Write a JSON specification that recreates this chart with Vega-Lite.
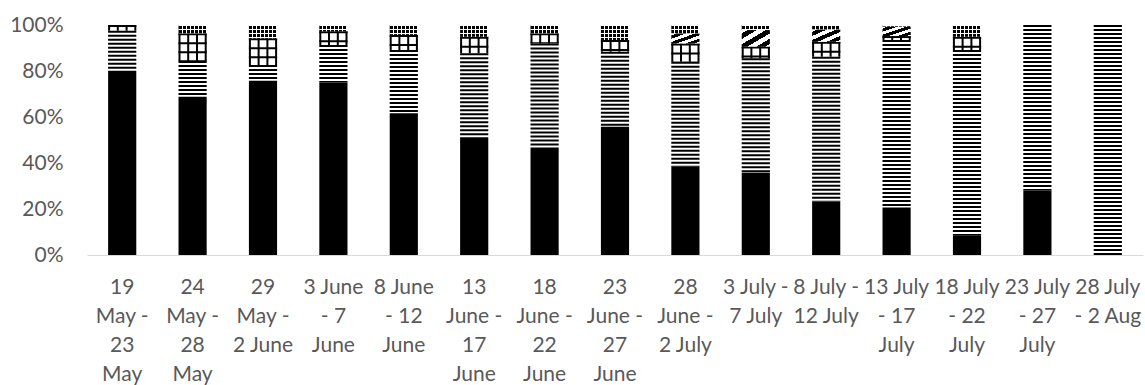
{
  "$schema": "https://vega.github.io/schema/vega-lite/v6.json",
  "width": 1056,
  "height": 230,
  "autosize": {"type": "none"},
  "padding": {"left": 87, "top": 25, "right": 2, "bottom": 130},
  "background": "white",
  "config": {
    "view": {"stroke": null},
    "font": "Lato",
    "axis": {"labelFont": "Lato", "labelFontSize": 21, "labelColor": "#595959", "grid": false, "ticks": false, "title": null}
  },
  "data": {
    "values": [
      {"p": "19 May - 23 May", "i": 0, "k": 1, "v": 80.1},
      {"p": "19 May - 23 May", "i": 0, "k": 2, "v": 17.4},
      {"p": "19 May - 23 May", "i": 0, "k": 3, "v": 2.5},
      {"p": "24 May - 28 May", "i": 1, "k": 1, "v": 68.8},
      {"p": "24 May - 28 May", "i": 1, "k": 2, "v": 15.5},
      {"p": "24 May - 28 May", "i": 1, "k": 3, "v": 12.1},
      {"p": "24 May - 28 May", "i": 1, "k": 5, "v": 3.6},
      {"p": "29 May - 2 June", "i": 2, "k": 1, "v": 75.8},
      {"p": "29 May - 2 June", "i": 2, "k": 2, "v": 6.8},
      {"p": "29 May - 2 June", "i": 2, "k": 3, "v": 11.6},
      {"p": "29 May - 2 June", "i": 2, "k": 5, "v": 5.8},
      {"p": "3 June - 7 June", "i": 3, "k": 1, "v": 75.0},
      {"p": "3 June - 7 June", "i": 3, "k": 2, "v": 16.3},
      {"p": "3 June - 7 June", "i": 3, "k": 3, "v": 6.0},
      {"p": "3 June - 7 June", "i": 3, "k": 5, "v": 2.7},
      {"p": "8 June - 12 June", "i": 4, "k": 1, "v": 61.6},
      {"p": "8 June - 12 June", "i": 4, "k": 2, "v": 27.5},
      {"p": "8 June - 12 June", "i": 4, "k": 3, "v": 6.6},
      {"p": "8 June - 12 June", "i": 4, "k": 5, "v": 4.3},
      {"p": "13 June - 17 June", "i": 5, "k": 1, "v": 51.2},
      {"p": "13 June - 17 June", "i": 5, "k": 2, "v": 36.5},
      {"p": "13 June - 17 June", "i": 5, "k": 3, "v": 7.2},
      {"p": "13 June - 17 June", "i": 5, "k": 5, "v": 5.1},
      {"p": "18 June - 22 June", "i": 6, "k": 1, "v": 46.1},
      {"p": "18 June - 22 June", "i": 6, "k": 2, "v": 45.9},
      {"p": "18 June - 22 June", "i": 6, "k": 3, "v": 4.4},
      {"p": "18 June - 22 June", "i": 6, "k": 5, "v": 3.6},
      {"p": "23 June - 27 June", "i": 7, "k": 1, "v": 55.8},
      {"p": "23 June - 27 June", "i": 7, "k": 2, "v": 32.6},
      {"p": "23 June - 27 June", "i": 7, "k": 3, "v": 5.1},
      {"p": "23 June - 27 June", "i": 7, "k": 5, "v": 6.5},
      {"p": "28 June - 2 July", "i": 8, "k": 1, "v": 38.4},
      {"p": "28 June - 2 July", "i": 8, "k": 2, "v": 45.6},
      {"p": "28 June - 2 July", "i": 8, "k": 3, "v": 8.0},
      {"p": "28 June - 2 July", "i": 8, "k": 4, "v": 4.4},
      {"p": "28 June - 2 July", "i": 8, "k": 5, "v": 3.6},
      {"p": "3 July - 7 July", "i": 9, "k": 1, "v": 35.8},
      {"p": "3 July - 7 July", "i": 9, "k": 2, "v": 49.7},
      {"p": "3 July - 7 July", "i": 9, "k": 3, "v": 5.1},
      {"p": "3 July - 7 July", "i": 9, "k": 4, "v": 7.2},
      {"p": "3 July - 7 July", "i": 9, "k": 5, "v": 2.2},
      {"p": "8 July - 12 July", "i": 10, "k": 1, "v": 23.3},
      {"p": "8 July - 12 July", "i": 10, "k": 2, "v": 62.9},
      {"p": "8 July - 12 July", "i": 10, "k": 3, "v": 6.5},
      {"p": "8 July - 12 July", "i": 10, "k": 4, "v": 5.4},
      {"p": "8 July - 12 July", "i": 10, "k": 5, "v": 1.9},
      {"p": "13 July - 17 July", "i": 11, "k": 1, "v": 20.7},
      {"p": "13 July - 17 July", "i": 11, "k": 2, "v": 72.8},
      {"p": "13 July - 17 July", "i": 11, "k": 3, "v": 1.7},
      {"p": "13 July - 17 July", "i": 11, "k": 4, "v": 4.1},
      {"p": "13 July - 17 July", "i": 11, "k": 5, "v": 0.7},
      {"p": "18 July - 22 July", "i": 12, "k": 1, "v": 8.4},
      {"p": "18 July - 22 July", "i": 12, "k": 2, "v": 80.7},
      {"p": "18 July - 22 July", "i": 12, "k": 3, "v": 5.8},
      {"p": "18 July - 22 July", "i": 12, "k": 5, "v": 5.1},
      {"p": "23 July - 27 July", "i": 13, "k": 1, "v": 28.0},
      {"p": "23 July - 27 July", "i": 13, "k": 2, "v": 72.0},
      {"p": "28 July - 2 Aug", "i": 14, "k": 2, "v": 100.0}
    ]
  },
  "transform": [
    {"stack": "v", "groupby": ["p"], "sort": [{"field": "k", "order": "ascending"}], "as": ["lo", "hi"]}
  ],
  "encoding": {
    "x": {
      "field": "p",
      "type": "nominal",
      "sort": {"field": "i", "op": "min"},
      "scale": {"paddingInner": 0.6, "paddingOuter": 0.3},
      "axis": {
        "labelAngle": 0,
        "domainColor": "#d9d9d9",
        "domainWidth": 1,
        "labelPadding": 21,
        "labelLineHeight": 29.3,
        "labelOverlap": false,
        "labelBound": false,
        "labelExpr": "({'19 May - 23 May': ['19', 'May -', '23', 'May'], '24 May - 28 May': ['24', 'May -', '28', 'May'], '29 May - 2 June': ['29', 'May -', '2 June'], '3 June - 7 June': ['3 June', '- 7', 'June'], '8 June - 12 June': ['8 June', '- 12', 'June'], '13 June - 17 June': ['13', 'June -', '17', 'June'], '18 June - 22 June': ['18', 'June -', '22', 'June'], '23 June - 27 June': ['23', 'June -', '27', 'June'], '28 June - 2 July': ['28', 'June -', '2 July'], '3 July - 7 July': ['3 July -', '7 July'], '8 July - 12 July': ['8 July -', '12 July'], '13 July - 17 July': ['13 July', '- 17', 'July'], '18 July - 22 July': ['18 July', '- 22', 'July'], '23 July - 27 July': ['23 July', '- 27', 'July'], '28 July - 2 Aug': ['28 July', '- 2 Aug']})[datum.value]"
      }
    },
    "y": {
      "field": "hi",
      "type": "quantitative",
      "scale": {"domain": [0, 100]},
      "axis": {"values": [0, 20, 40, 60, 80, 100], "domain": false, "labelPadding": 24, "labelExpr": "datum.value + '%'"}
    },
    "y2": {"field": "lo"}
  },
  "layer": [
    {
      "transform": [{"filter": "datum.k == 1"}],
      "mark": {"type": "bar", "color": "black"}
    },
    {
      "transform": [{"filter": "datum.k == 2"}],
      "mark": {"type": "rule", "color": "black", "strokeWidth": 28.2, "strokeDash": [2, 2]}
    },
    {
      "transform": [{"filter": "datum.k == 3"}],
      "mark": {"type": "rule", "color": "black", "strokeWidth": 28.2, "strokeDash": [2, 7]}
    },
    {
      "transform": [{"filter": "datum.k == 3"}],
      "mark": {"type": "rule", "color": "black", "strokeWidth": 2, "xOffset": -13.1}
    },
    {
      "transform": [{"filter": "datum.k == 3"}],
      "mark": {"type": "rule", "color": "black", "strokeWidth": 2, "xOffset": -4.4}
    },
    {
      "transform": [{"filter": "datum.k == 3"}],
      "mark": {"type": "rule", "color": "black", "strokeWidth": 2, "xOffset": 4.4}
    },
    {
      "transform": [{"filter": "datum.k == 3"}],
      "mark": {"type": "rule", "color": "black", "strokeWidth": 2, "xOffset": 13.1}
    },
    {
      "transform": [{"filter": "datum.k == 4"}],
      "mark": {
        "type": "bar",
        "stroke": null,
        "fill": {
          "gradient": "linear", "x1": 0, "y1": 0, "x2": 1, "y2": 1,
          "stops": [
            {"offset": 0, "color": "white"}, {"offset": 0.1, "color": "white"},
            {"offset": 0.1, "color": "black"}, {"offset": 0.27, "color": "black"},
            {"offset": 0.27, "color": "white"}, {"offset": 0.43, "color": "white"},
            {"offset": 0.43, "color": "black"}, {"offset": 0.6, "color": "black"},
            {"offset": 0.6, "color": "white"}, {"offset": 0.76, "color": "white"},
            {"offset": 0.76, "color": "black"}, {"offset": 0.92, "color": "black"},
            {"offset": 0.92, "color": "white"}, {"offset": 1, "color": "white"}
          ]
        }
      }
    },
    {
      "transform": [{"filter": "datum.k == 5"}],
      "mark": {
        "type": "bar",
        "stroke": null,
        "fill": {
          "gradient": "linear", "x1": 0, "y1": 0, "x2": 1, "y2": 0,
          "stops": [
            {"offset": 0, "color": "black"}, {"offset": 0.1071, "color": "black"},
            {"offset": 0.1071, "color": "white"}, {"offset": 0.1429, "color": "white"},
            {"offset": 0.1429, "color": "black"}, {"offset": 0.25, "color": "black"},
            {"offset": 0.25, "color": "white"}, {"offset": 0.2857, "color": "white"},
            {"offset": 0.2857, "color": "black"}, {"offset": 0.3929, "color": "black"},
            {"offset": 0.3929, "color": "white"}, {"offset": 0.4286, "color": "white"},
            {"offset": 0.4286, "color": "black"}, {"offset": 0.5357, "color": "black"},
            {"offset": 0.5357, "color": "white"}, {"offset": 0.5714, "color": "white"},
            {"offset": 0.5714, "color": "black"}, {"offset": 0.6786, "color": "black"},
            {"offset": 0.6786, "color": "white"}, {"offset": 0.7143, "color": "white"},
            {"offset": 0.7143, "color": "black"}, {"offset": 0.8214, "color": "black"},
            {"offset": 0.8214, "color": "white"}, {"offset": 0.8571, "color": "white"},
            {"offset": 0.8571, "color": "black"}, {"offset": 0.9643, "color": "black"},
            {"offset": 0.9643, "color": "white"}, {"offset": 1, "color": "white"}
          ]
        }
      }
    },
    {
      "transform": [{"filter": "datum.k == 5"}],
      "mark": {"type": "rule", "color": "white", "strokeWidth": 28.2, "strokeDash": [1, 3]}
    }
  ]
}
